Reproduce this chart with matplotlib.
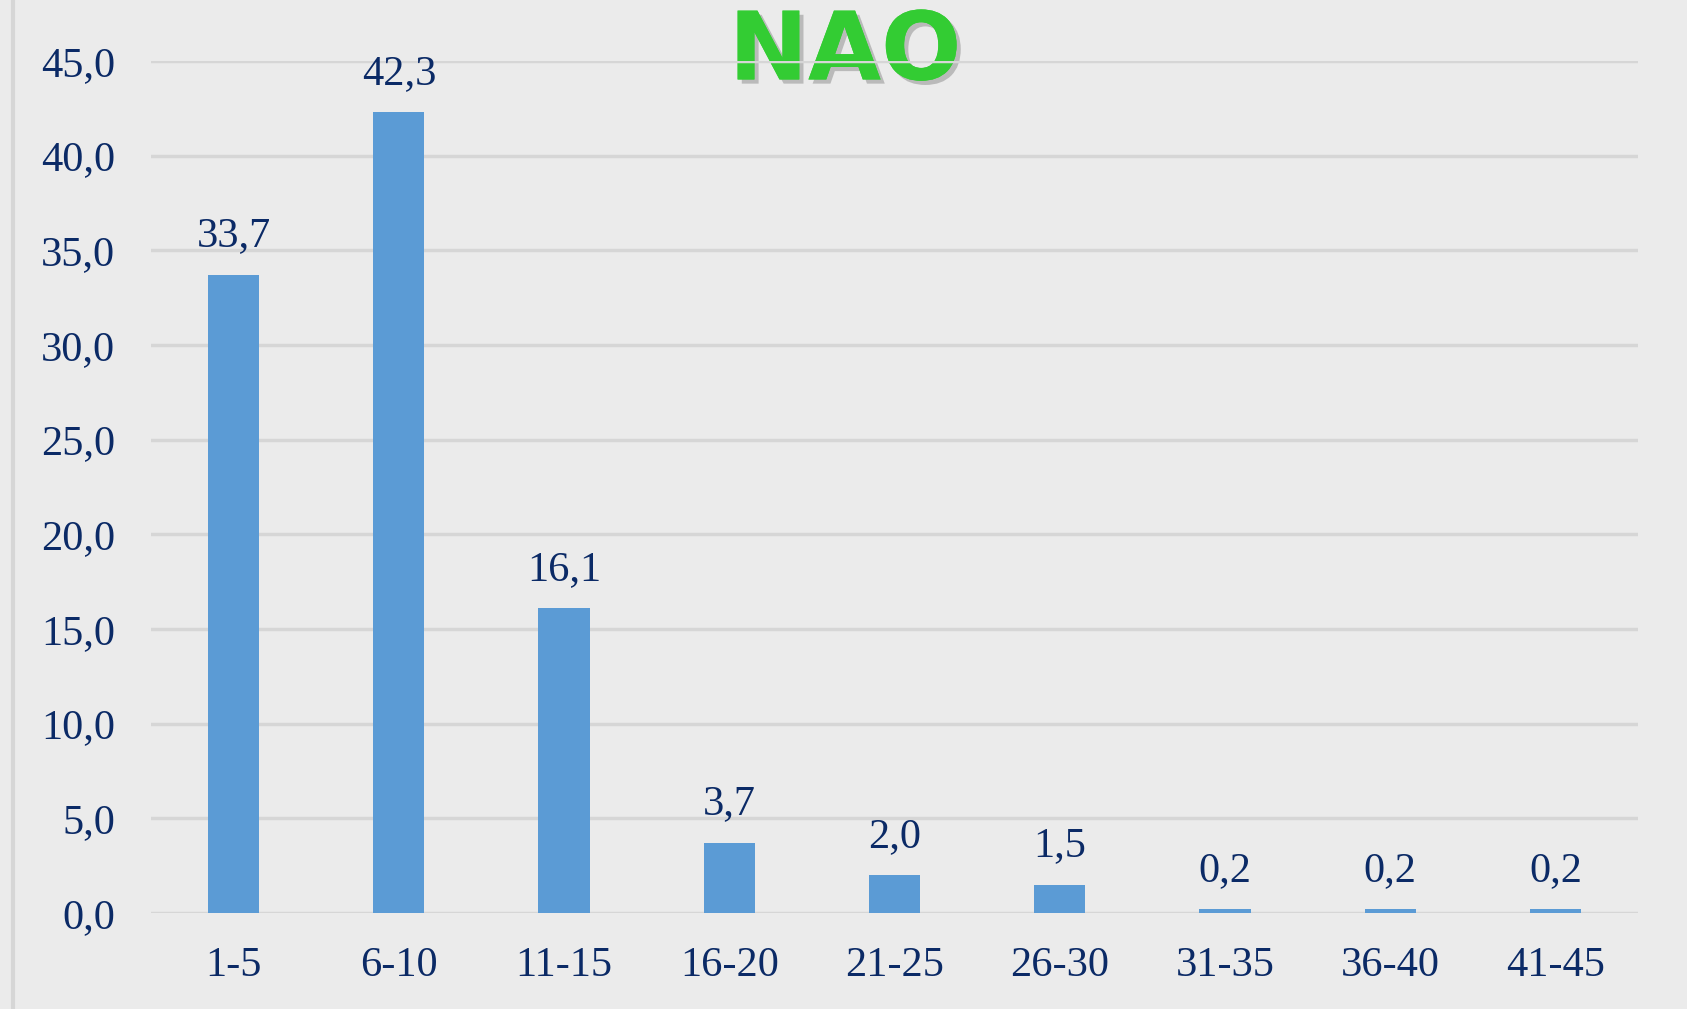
import matplotlib.pyplot as plt
from matplotlib import patheffects
from matplotlib.lines import Line2D

categories = ["1-5", "6-10", "11-15", "16-20", "21-25", "26-30", "31-35", "36-40", "41-45"]
values = [33.7, 42.3, 16.1, 3.7, 2.0, 1.5, 0.2, 0.2, 0.2]
y_ticks = [0, 5, 10, 15, 20, 25, 30, 35, 40, 45]
title = "NAO"

bg = "#ebebeb"
navy = "#0b2a66"
grid_col = "#d6d6d6"

fig = plt.figure(figsize=(16.87, 10.09), dpi=100, facecolor=bg)
ax = fig.add_axes([0.0895, 0.0951, 0.8815, 0.8444])
ax.set_facecolor("none")

x = range(len(categories))
bars = ax.bar(x, values, width=0.31, color="#5b9bd5", zorder=3)

ax.set_xlim(-0.5, len(categories) - 0.5)
ax.set_ylim(0, 45)
ax.set_yticks(y_ticks)
ax.set_yticklabels([f"{v:.1f}".replace(".", ",") for v in y_ticks])
ax.set_xticks(list(x))
ax.set_xticklabels(categories)

for lab in ax.get_xticklabels() + ax.get_yticklabels():
    lab.set_fontfamily("Liberation Serif")
    lab.set_fontsize(30.5)
    lab.set_color(navy)
ax.tick_params(axis="y", length=0, pad=26)
ax.tick_params(axis="x", length=0, pad=24)

ax.grid(axis="y", color=grid_col, linewidth=2.5, zorder=2)
ax.set_axisbelow(False)
for s in ax.spines.values():
    s.set_visible(False)

for b, v in zip(bars, values):
    ax.annotate(f"{v:.1f}".replace(".", ","), (b.get_x() + b.get_width() / 2, v),
                xytext=(0, 14), textcoords="offset points", ha="center", va="bottom",
                fontsize=30.5, family="Liberation Serif", color=navy, zorder=4)

# title sits behind the gridlines like in the original
fig.text(0.501, 0.947, title, ha="center", va="center", fontsize=68,
         fontweight="bold", family="DejaVu Sans", color="#33cc33", zorder=-1,
         path_effects=[patheffects.withSimplePatchShadow(offset=(3, -3), shadow_rgbFace="#9a9a9a", alpha=0.6),
                       patheffects.Normal()])
fig.add_artist(Line2D([0.0075, 0.0075], [0, 1], color=grid_col, linewidth=3))

fig.savefig("out.png", dpi=100, facecolor=bg)
